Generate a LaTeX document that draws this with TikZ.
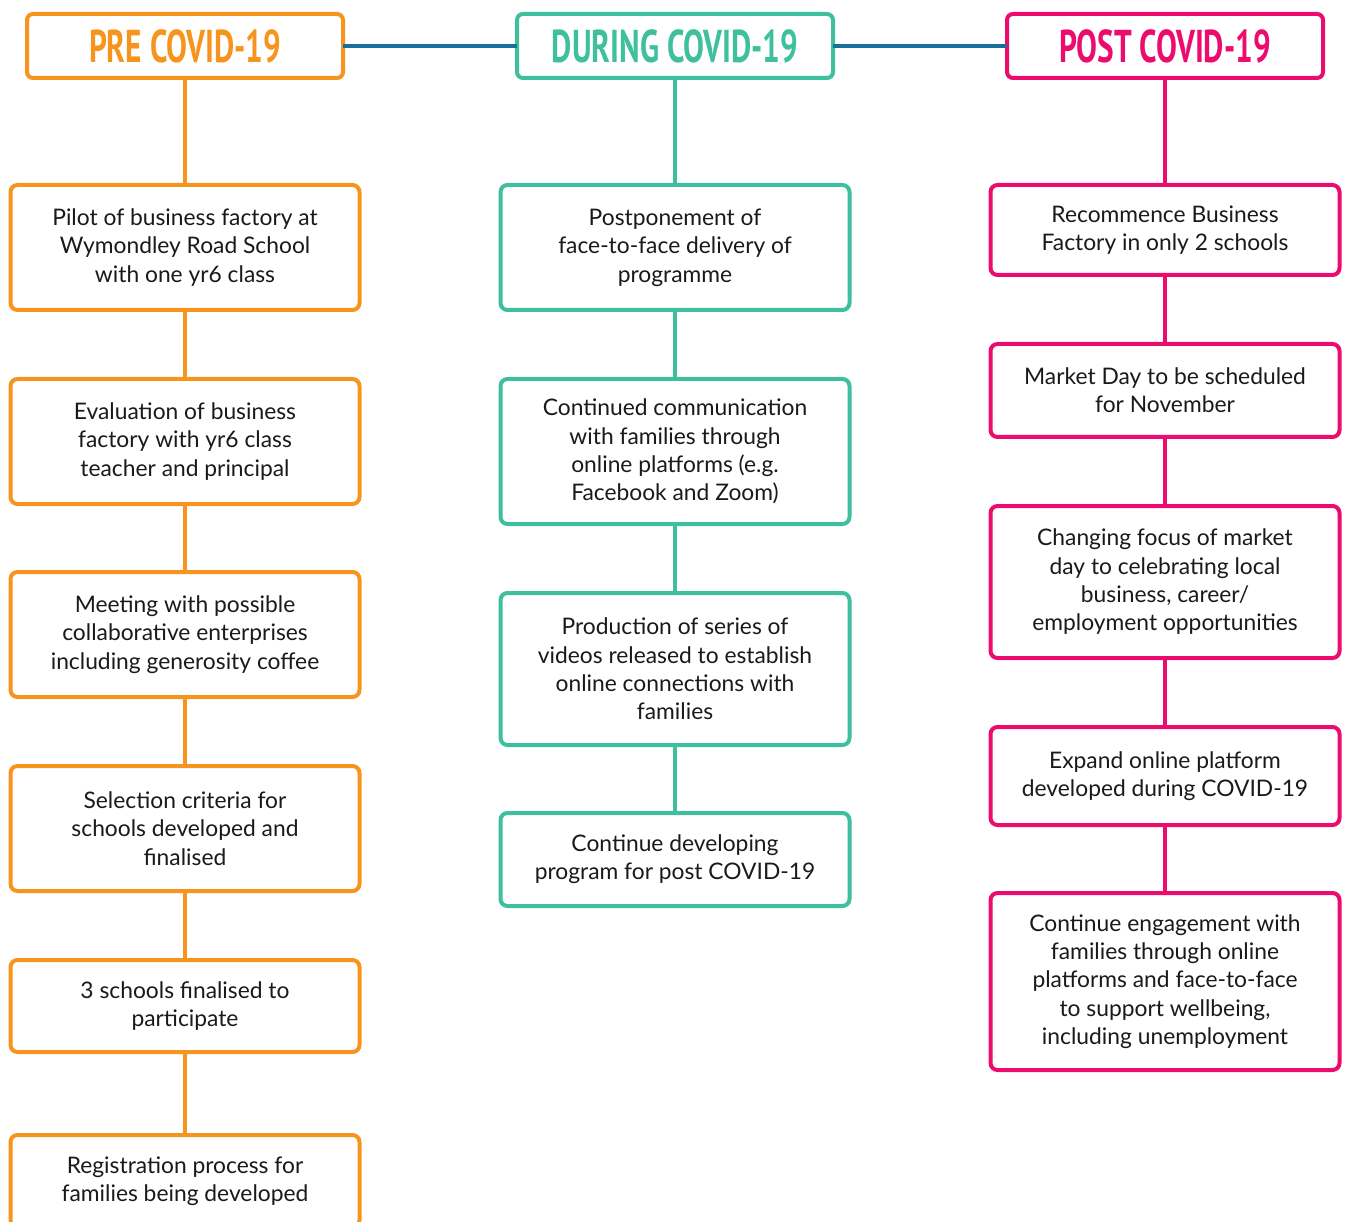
\documentclass[tikz,border=0pt]{standalone}
\usepackage{fontspec}
\setmainfont{Lato}
\newfontfamily\headfont{PT Sans}
\definecolor{corange}{HTML}{F7941D}
\definecolor{cteal}{HTML}{3EBF9E}
\definecolor{cpink}{HTML}{EC0C6E}
\definecolor{cblue}{HTML}{18709A}
\definecolor{ctext}{HTML}{1A1A1A}
\tikzset{
  every node/.style={inner sep=0pt, outer sep=0pt},
  hd/.style={draw=#1, line width=4pt, rounded corners=6pt, minimum width=316pt, minimum height=64pt,
     text=#1, font=\headfont\bfseries\fontsize{46}{46}\selectfont},
  bx/.style={draw=#1, line width=4pt, rounded corners=7pt, minimum width=349pt, fill=white,
     text=ctext, align=center, font=\fontsize{22.8}{28.3}\selectfont},
  cn/.style={draw=#1, line width=4pt},
}
\newcommand{\hdtxt}[1]{\raisebox{-1pt}{\scalebox{0.68}[1]{#1}}}
\begin{document}
\begin{tikzpicture}[x=1pt,y=-1pt]
\useasboundingbox (0,0) rectangle (1347,1222);
% headers
\node[hd=corange] (h1) at (185,46) {\hdtxt{PRE COVID-19}};
\node[hd=cteal]   (h2) at (675,46) {\hdtxt{DURING COVID-19}};
\node[hd=cpink]   (h3) at (1165,46) {\hdtxt{POST COVID-19}};
\draw[cblue, line width=4pt] (h1.east) -- (h2.west);
\draw[cblue, line width=4pt] (h2.east) -- (h3.west);
% left column
\node[bx=corange, minimum height=125pt] (a1) at (185,247.5) {Pilot of business factory at\\Wymondley Road School\\with one yr6 class};
\node[bx=corange, minimum height=125pt] (a2) at (185,441.5) {Evaluation of business\\factory with yr6 class\\teacher and principal};
\node[bx=corange, minimum height=125pt] (a3) at (185,634.5) {Meeting with possible\\collaborative enterprises\\including generosity coffee};
\node[bx=corange, minimum height=125pt] (a4) at (185,828.5) {Selection criteria for\\schools developed and\\finalised};
\node[bx=corange, minimum height=92pt] (a5) at (185,1006) {3 schools finalised to\\participate};
\node[bx=corange, minimum height=92pt] (a6) at (185,1181) {Registration process for\\families being developed};
\draw[cn=corange] (h1.south) -- (a1.north);
\draw[cn=corange] (a1.south) -- (a2.north);
\draw[cn=corange] (a2.south) -- (a3.north);
\draw[cn=corange] (a3.south) -- (a4.north);
\draw[cn=corange] (a4.south) -- (a5.north);
\draw[cn=corange] (a5.south) -- (a6.north);
% middle column
\node[bx=cteal, minimum height=125pt] (b1) at (675,247.5) {Postponement of\\face-to-face delivery of\\programme};
\node[bx=cteal, minimum height=145pt] (b2) at (675,451.5) {Continued communication\\with families through\\online platforms (e.g.\\Facebook and Zoom)};
\node[bx=cteal, minimum height=152pt] (b3) at (675,669) {Production of series of\\videos released to establish\\online connections with\\families};
\node[bx=cteal, minimum height=93pt] (b4) at (675,859.5) {Continue developing\\program for post COVID-19};
\draw[cn=cteal] (h2.south) -- (b1.north);
\draw[cn=cteal] (b1.south) -- (b2.north);
\draw[cn=cteal] (b2.south) -- (b3.north);
\draw[cn=cteal] (b3.south) -- (b4.north);
% right column
\node[bx=cpink, minimum height=90pt] (c1) at (1165,230) {Recommence Business\\Factory in only 2 schools};
\node[bx=cpink, minimum height=93pt] (c2) at (1165,390.5) {Market Day to be scheduled\\for November};
\node[bx=cpink, minimum height=152pt] (c3) at (1165,582) {Changing focus of market\\day to celebrating local\\business, career/\\employment opportunities};
\node[bx=cpink, minimum height=98pt] (c4) at (1165,776) {Expand online platform\\developed during COVID-19};
\node[bx=cpink, minimum height=177pt] (c5) at (1165,981.5) {Continue engagement with\\families through online\\platforms and face-to-face\\to support wellbeing,\\including unemployment};
\draw[cn=cpink] (h3.south) -- (c1.north);
\draw[cn=cpink] (c1.south) -- (c2.north);
\draw[cn=cpink] (c2.south) -- (c3.north);
\draw[cn=cpink] (c3.south) -- (c4.north);
\draw[cn=cpink] (c4.south) -- (c5.north);
\end{tikzpicture}
\end{document}
